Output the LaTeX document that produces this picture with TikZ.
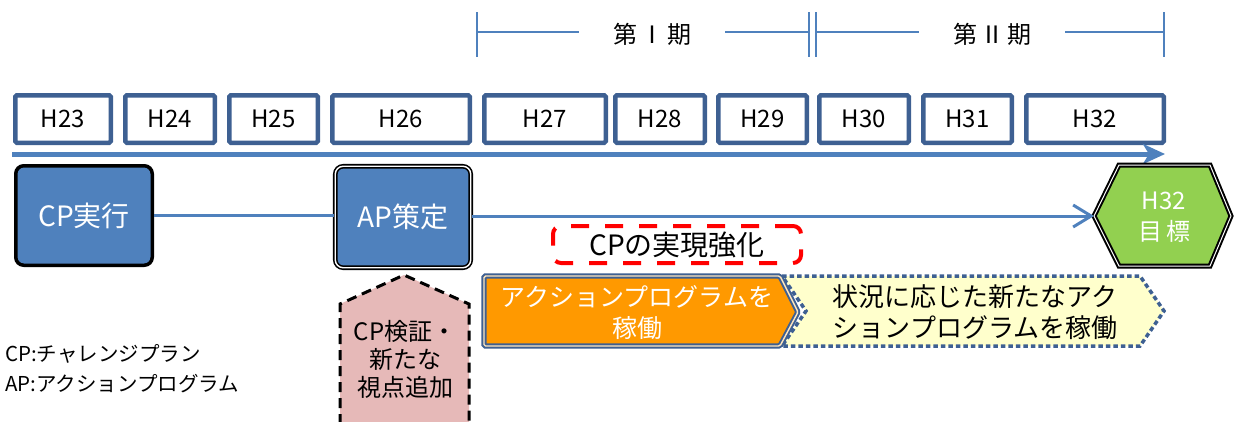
\documentclass[tikz,border=0pt]{standalone}
\usepackage{fontspec}
\setmainfont{Noto Sans CJK JP}
\usetikzlibrary{arrows.meta}
\definecolor{yearblue}{RGB}{62,96,146}
\definecolor{accblue}{RGB}{79,129,189}
\definecolor{hexgreen}{RGB}{146,208,80}
\definecolor{aporange}{RGB}{255,153,0}
\definecolor{lightyellow}{RGB}{255,255,204}
\definecolor{pinkfill}{RGB}{230,185,184}
\definecolor{cpred}{RGB}{255,0,0}
\begin{document}
\begin{tikzpicture}[x=1pt,y=-1pt,
  yearbox/.style={draw=yearblue,line width=4.5pt,rounded corners=1.5pt,fill=white,
    minimum height=47.5pt,inner sep=0pt,font=\fontsize{24}{26}\selectfont},
  bluebox/.style={fill=accblue,rounded corners=8pt,inner sep=0pt,text=white,
    font=\fontsize{28}{30}\selectfont},
  periodline/.style={draw=accblue,line width=2.5pt},
  periodtext/.style={inner xsep=34pt,inner ysep=0pt,font=\fontsize{24}{26}\selectfont},
  conn/.style={draw=accblue,line width=3pt},
  legend/.style={anchor=west,inner sep=0pt,font=\fontsize{20.5}{22}\selectfont}
]
\useasboundingbox (0,0) rectangle (1236,421);

% period brackets
\coordinate (t1) at (477,32);
\coordinate (t2a) at (809,32);
\coordinate (t2b) at (816,32);
\coordinate (t3) at (1164,32);
\node[periodtext] (p1) at (652,34) {第\hspace{3pt}Ⅰ\hspace{3pt}期};
\node[periodtext] (p2) at (992,34) {第\hspace{3pt}Ⅱ\hspace{3pt}期};
\draw[periodline] (477,12) -- (477,57);
\draw[periodline] (809,12) -- (809,57);
\draw[periodline] (816,12) -- (816,57);
\draw[periodline] (1164,12) -- (1164,57);
\draw[periodline] (t1) -- (t1 -| p1.west);
\draw[periodline] (t2a -| p1.east) -- (t2a);
\draw[periodline] (t2b) -- (t2b -| p2.west);
\draw[periodline] (t3 -| p2.east) -- (t3);

% year boxes
\node[yearbox,minimum width=95.5pt] (h23) at (63,119) {H23};
\node[yearbox,minimum width=89.5pt] (h24) at (170,119) {H24};
\node[yearbox,minimum width=88.5pt] (h25) at (273.5,119) {H25};
\node[yearbox,minimum width=137.5pt] (h26) at (401,119) {H26};
\node[yearbox,minimum width=121.5pt] (h27) at (545,119) {H27};
\node[yearbox,minimum width=89.5pt] (h28) at (660,119) {H28};
\node[yearbox,minimum width=88.5pt] (h29) at (762.5,119) {H29};
\node[yearbox,minimum width=89.5pt] (h30) at (864,119) {H30};
\node[yearbox,minimum width=88.5pt] (h31) at (967.5,119) {H31};
\node[yearbox,minimum width=137.5pt] (h32) at (1095,119) {H32};

% long timeline arrow
\coordinate (tlS) at (12,154);
\coordinate (tlE) at (1165,154);
\draw[accblue,line width=5pt,-{Stealth[length=22pt,width=20pt,inset=6pt]}] (tlS) -- (tlE);

% CP / AP boxes
\node[bluebox,draw=black,line width=3.5pt,minimum width=136.5pt,minimum height=99.5pt] (cp) at (84,215.5) {CP実行};
\node[bluebox,draw=black,double=white,line width=1.6pt,double distance=1.4pt,
  minimum width=135.5pt,minimum height=101.5pt] (ap) at (403,217) {AP策定};

% hexagon goal
\coordinate (hexW) at (1094,216);
\filldraw[fill=hexgreen,draw=black,double=white,line width=2pt,double distance=1pt,line join=miter]
  (hexW) -- (1119,165) -- (1210,165) -- (1231,216) -- (1210,266) -- (1119,266) -- cycle;
\node[text=white,align=center,font=\fontsize{24}{31}\selectfont] (hex) at (1164,217) {H32\\目\hspace{4pt}標};

\draw[conn] (cp.east) -- (cp.east -| ap.west);
\draw[conn,-{Straight Barb[length=18pt,width=22pt]}] (ap.east |- hexW) -- (hexW);

% CP reinforcement
\node[draw=cpred,line width=4pt,dash pattern=on 18pt off 16pt,rounded corners=8pt,
  minimum width=248pt,minimum height=37pt,inner sep=0pt,font=\fontsize{28}{30}\selectfont]
  (cpr) at (677,244.5) {CPの実現強化};

% yellow chevron
\filldraw[fill=lightyellow,draw=yearblue,line width=3.5pt,dash pattern=on 4.5pt off 3pt]
  (782,276) -- (1140,276) -- (1164,311) -- (1140,346) -- (782,346) -- (806,311) -- cycle;
\node[align=center,font=\fontsize{26}{31}\selectfont] (yel) at (975,312) {状況に応じた新たなアク\\ションプログラムを稼働};

% orange arrow
\filldraw[fill=aporange,draw=yearblue,double=white!75!aporange,line width=2pt,double distance=1.4pt,rounded corners=1.5pt]
  (484,276) -- (780,276) -- (798,312) -- (780,346) -- (484,346) -- cycle;
\node[text=white,align=center,font=\fontsize{25}{31}\selectfont] (ora) at (637,313) {アクションプログラムを\\稼働};

% pink pentagon
\fill[pinkfill] (340,304) -- (404,275) -- (469,304) -- (469,424) -- (340,424) -- cycle;
\draw[black,line width=3pt,dash pattern=on 10pt off 6pt]
  (340,424) -- (340,304) -- (404,275) -- (469,304) -- (469,424);
\node[align=center,font=\fontsize{24}{28}\selectfont] (pink) at (405,359) {CP検証・\\新たな\\視点追加};

% legend
\node[legend] (lg1) at (5,354) {CP:チャレンジプラン};
\node[legend] (lg2) at (5,384) {AP:アクションプログラム};
\end{tikzpicture}
\end{document}
